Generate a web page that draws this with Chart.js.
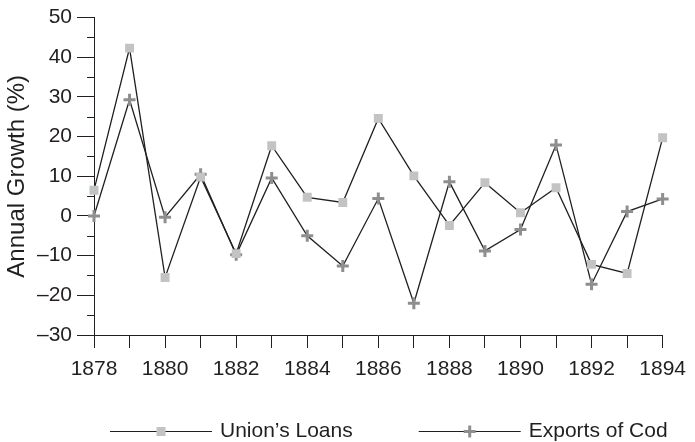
<!DOCTYPE html>
<html>
<head>
<meta charset="utf-8">
<script src="https://cdn.jsdelivr.net/npm/chart.js@4"></script>
<style>
html,body{margin:0;padding:0;background:#fff;}
canvas{display:block;}
</style>
</head>
<body>
<canvas id="growthChart" width="695" height="442"></canvas>
<script>
// data
var years = ["1878","1879","1880","1881","1882","1883","1884","1885","1886","1887","1888","1889","1890","1891","1892","1893","1894"];
var unionsLoans = [6.5, 42.3, -15.5, 9.8, -9.5, 17.7, 4.7, 3.4, 24.6, 10.1, -2.4, 8.4, 0.8, 7.1, -12.2, -14.5, 19.7];
var exportsOfCod = [0, 29.3, -0.3, 10.5, -9.8, 9.6, -5.0, -12.6, 4.4, -22.0, 8.6, -8.8, -3.4, 17.9, -17.2, 1.1, 4.3];
var seriesNames = ["Union\u2019s Loans", "Exports of Cod"];
var yTitle = "Annual Growth (%)";

var ink = "#231f20";
var squareGrey = "#c2c3c5";
var crossGrey = "#8e8e90";
var fontFamily = "'Liberation Sans', Arial, Helvetica, sans-serif";

// short ticks half way between the labelled y ticks
var minorTicks = {
  id: "minorTicks",
  afterDraw: function(chart){
    var y = chart.scales.y, ctx = chart.ctx;
    ctx.save();
    ctx.strokeStyle = ink;
    ctx.lineWidth = 1;
    for (var i = 0; i < y.ticks.length - 1; i++) {
      var v = (y.ticks[i].value + y.ticks[i+1].value) / 2;
      var py = Math.round(y.getPixelForValue(v)) + 0.5;
      ctx.beginPath();
      ctx.moveTo(y.right - 7, py);
      ctx.lineTo(y.right, py);
      ctx.stroke();
    }
    ctx.restore();
  }
};

// legend with a line through the marker, like the original
var lineLegend = {
  id: "lineLegend",
  afterDraw: function(chart){
    var ctx = chart.ctx;
    var x = 110, y = 431.5;
    ctx.save();
    ctx.font = "21px " + fontFamily;
    ctx.textBaseline = "middle";
    chart.data.datasets.forEach(function(ds){
      ctx.strokeStyle = ink;
      ctx.lineWidth = 1.2;
      ctx.beginPath();
      ctx.moveTo(x, y);
      ctx.lineTo(x + 102, y);
      ctx.stroke();
      var mx = x + 51;
      if (ds.pointStyle === "rect") {
        ctx.fillStyle = squareGrey;
        ctx.fillRect(mx - 4.5, y - 4.5, 9, 9);
      } else {
        ctx.strokeStyle = crossGrey;
        ctx.lineWidth = 3;
        ctx.beginPath();
        ctx.moveTo(mx - 6, y); ctx.lineTo(mx + 6, y);
        ctx.moveTo(mx, y - 6); ctx.lineTo(mx, y + 6);
        ctx.stroke();
      }
      ctx.fillStyle = ink;
      ctx.fillText(ds.label, x + 110, y);
      x += 110 + ctx.measureText(ds.label).width + 66;
    });
    ctx.restore();
  }
};

new Chart(document.getElementById("growthChart"),{

type:"line",

data:{
labels:years,
datasets:[{
label:seriesNames[0],
data:unionsLoans,
borderColor:ink,
borderWidth:1.3,
pointStyle:"rect",
pointRadius:6.3,
pointBackgroundColor:squareGrey,
pointBorderColor:squareGrey,
pointBorderWidth:0,
tension:0
},{
label:seriesNames[1],
data:exportsOfCod,
borderColor:ink,
borderWidth:1.3,
pointStyle:"cross",
pointRadius:6,
pointBorderColor:crossGrey,
pointBorderWidth:3,
tension:0
}]
},

options:{
responsive:false,
animation:false,
devicePixelRatio:1,
layout:{padding:{left:0,top:17,right:25,bottom:62}},
plugins:{legend:{display:false},tooltip:{enabled:false}},
scales:{
x:{
offset:false,
grid:{display:true,drawOnChartArea:false,drawTicks:true,tickLength:13,color:ink},
border:{display:true,color:ink,width:1},
ticks:{
autoSkip:false,maxRotation:0,padding:9,color:ink,
font:{family:fontFamily,size:21},
callback:function(v,i){ return i % 2 === 0 ? years[i] : ""; }
},
afterFit:function(s){ s.height = 45; }
},
y:{
min:-30,max:50,
grid:{drawOnChartArea:false,drawTicks:true,tickLength:17,color:ink},
border:{display:true,color:ink,width:1},
ticks:{
stepSize:10,padding:5,color:ink,
font:{family:fontFamily,size:21},
callback:function(v){ return String(v).replace("-","\u2013"); }
},
title:{display:true,text:yTitle,color:ink,font:{family:fontFamily,size:24},padding:{top:3,bottom:0}},
afterFit:function(s){ s.width = 94; }
}
}
},

plugins:[minorTicks,lineLegend]

});
</script>
</body>
</html>
